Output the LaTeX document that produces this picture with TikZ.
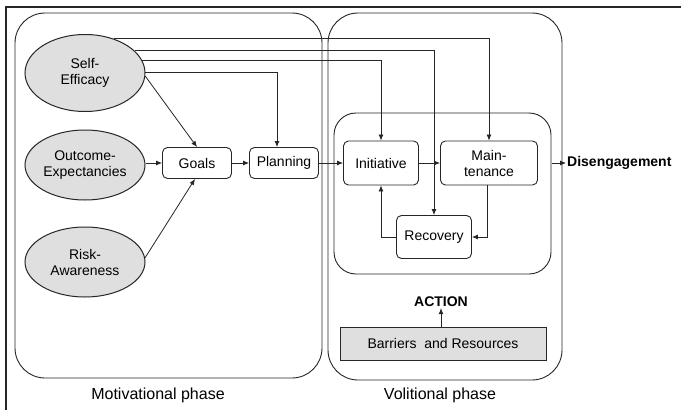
\documentclass[tikz,border=0pt]{standalone}
\usepackage{fontspec}
\setmainfont{Liberation Sans}
\usetikzlibrary{shapes.geometric,arrows.meta}
\begin{document}
\begin{tikzpicture}[x=1pt,y=-1pt,
  font=\fontsize{14}{16}\selectfont,
  conn/.style={line width=0.8pt,draw=black!85,-{Latex[length=6pt,width=5pt]}},
  plain/.style={line width=0.8pt,draw=black!85},
  oval/.style={ellipse,draw=black!85,line width=1pt,fill=gray!25,minimum width=120pt,inner sep=0pt,align=center},
  rbox/.style={rectangle,rounded corners=5pt,draw=black!85,line width=0.9pt,fill=white,align=center,inner sep=0pt},
  phase/.style={rectangle,draw=black!85,line width=0.9pt,rounded corners=30pt,inner sep=0pt},
  plabel/.style={font=\fontsize{16}{18}\selectfont}]
\useasboundingbox (0,0) rectangle (681,410);
\fill[white] (0,0) rectangle (681,410);
% outer frame
\draw[line width=1.4pt,black!85] (681,7) -- (6,7) -- (6,410);
% phase boxes
\node[phase,minimum width=307pt,minimum height=365pt] (mot) at (168.5,195.5) {};
\node[phase,minimum width=234pt,minimum height=367pt] (vol) at (445,196.5) {};
\node[phase,rounded corners=22pt,minimum width=217pt,minimum height=161pt] (inner) at (442.5,193.5) {};
% ellipses
\node[oval,minimum height=77pt] (se) at (85,73) {Self-\\Efficacy};
\node[oval,minimum height=70pt] (oe) at (85,165) {Outcome-\\Expectancies};
\node[oval,minimum height=70pt] (ra) at (85,262) {Risk-\\Awareness};
% boxes
\node[rbox,minimum width=69pt,minimum height=31pt] (goals) at (197,163) {Goals};
\node[rbox,minimum width=69pt,minimum height=31pt] (plan) at (284,163) {Planning};
\node[rbox,minimum width=75pt,minimum height=44pt] (init) at (381,163) {Initiative};
\node[rbox,minimum width=97pt,minimum height=44pt] (maint) at (489,163) {Main-\\tenance};
\node[rbox,minimum width=75pt,minimum height=43pt] (rec) at (434,237) {Recovery};
\node[rectangle,draw=black!85,line width=0.9pt,fill=gray!25,minimum width=206pt,minimum height=33pt,inner sep=0pt] (barr) at (443,343.5) {Barriers\ \ and Resources};
\node[font=\fontsize{14}{16}\selectfont\bfseries,inner sep=1pt] (action) at (441,302) {ACTION};
\node[font=\fontsize{14}{16}\selectfont\bfseries,anchor=west,inner sep=1pt] (dis) at (566,163) {Disengagement};
% phase labels
\node[plabel] (ml) at (158,395) {Motivational phase};
\node[plabel] (vl) at (440,395) {Volitional phase};
% connectors from Self-Efficacy
\draw[conn] (se.50) -| (maint.north);
\draw[conn] (se.24) -| (rec.north);
\draw[conn] (se.12) -| (init.north);
\draw[conn] (se.1) -| ([xshift=-7pt]plan.north);
\draw[conn] (se.-3) -- (goals.north);
% others
\draw[conn] (oe.east |- goals.west) -- (goals.west);
\draw[conn] (ra.4) -- ([xshift=-2pt]goals.south);
\draw[conn] (goals.east) -- (plan.west);
\draw[conn] (plan.east) -- (init.west);
\draw[conn] (init.east) -- (maint.west);
\draw[conn] ([xshift=-2pt]maint.south) |- (rec.east);
\draw[conn] (rec.west) -| (init.south);
\draw[conn] ([xshift=1pt]inner.east |- dis.west) -- (dis.west);
\draw[conn] (barr.north -| action.south) -- (action.south);
\end{tikzpicture}
\end{document}
